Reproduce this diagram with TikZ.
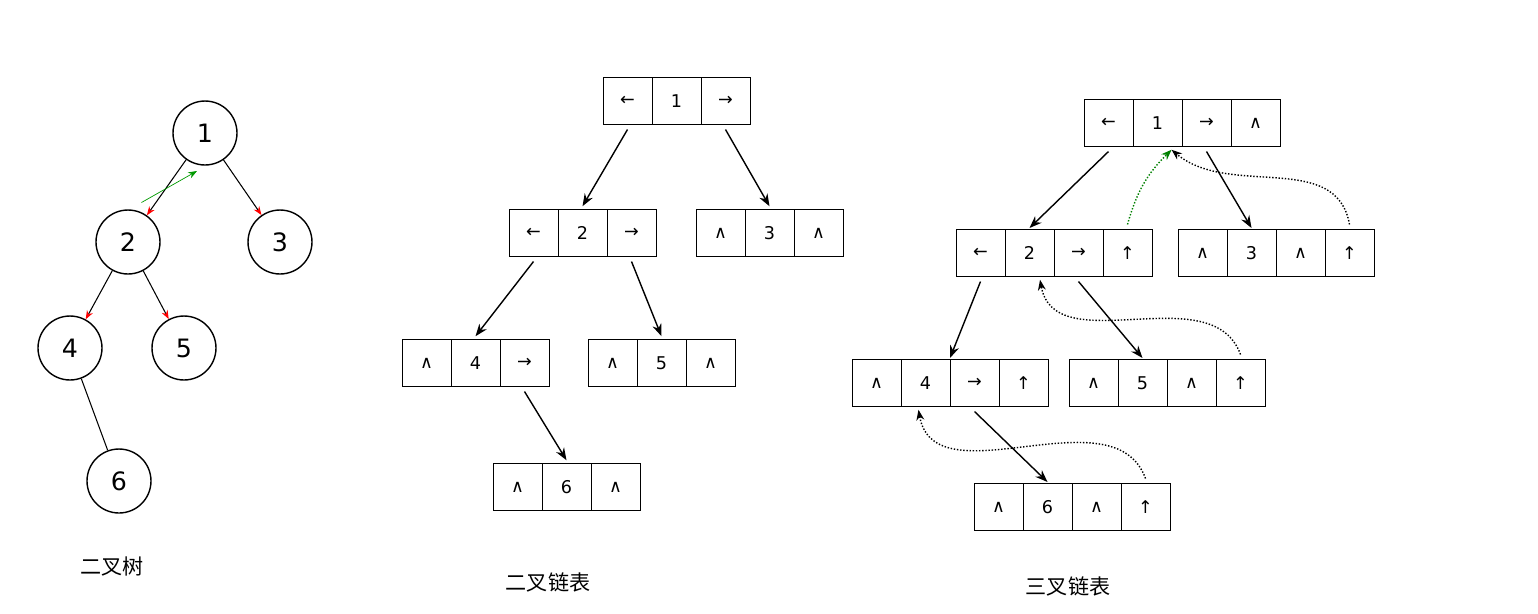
\documentclass[tikz,border=0pt]{standalone}
\usepackage{fontspec}
\setmainfont{DejaVu Sans}
\newfontfamily\cjk{Noto Sans CJK SC}
\usetikzlibrary{positioning,arrows.meta,calc}
\tikzset{
        % tree nodes
        treenode/.style={circle, draw, thick, minimum size=1.28cm, inner sep=0pt, font=\Large},
        % tree edges
        edge/.style={semithick, -{Stealth[red,length=5pt]}},
        % list cells
        cell/.style={rectangle, draw, minimum width=0.98cm, minimum height=0.93cm, inner sep=0pt, outer sep=0pt, font=\normalsize},
        % child pointers
        link/.style={-{Stealth[length=7pt]}, thick},
        % parent pointers
        uplink/.style={-{Stealth[length=6pt]}, thick, densely dotted},
        caption/.style={font=\cjk\large}
}
% one row of cells: name, left edge x, centre y, texts
\newcommand\cellrow[4]{%
  \foreach \t [count=\i] in {#4} {\node[cell] (#1-\i) at ({#2+49*\i-24.5},#3) {\t};}}

\begin{document}
\begin{tikzpicture}[x=0.02cm, y=-0.02cm]
    \useasboundingbox (0,0) rectangle (1538,613);
    % binary tree
    \node[treenode] (t1) at (205,133) {1};
    \node[treenode] (t2) at (128,242) {2};
    \node[treenode] (t3) at (280,242) {3};
    \node[treenode] (t4) at (70,348) {4};
    \node[treenode] (t5) at (184,348) {5};
    \node[treenode] (t6) at (119,481) {6};
    \draw[edge] (t1) -- (t2);
    \draw[edge] (t1) -- (t3);
    \draw[edge] (t2) -- (t4);
    \draw[edge] (t2) -- (t5);
    \draw[semithick] (t4) -- (t6);
    \draw[green!60!black, -{Stealth[length=5pt]}] ($(t2)!0.5!(t1)+(-25,15)$) -- ($(t1)+(-8,38)$);
    \node[caption] (c1) at (112,566) {二叉树};

    % binary linked list
    \cellrow{m1}{603}{101}{←,1,→}
    \cellrow{m2}{509}{233}{←,2,→}
    \cellrow{m3}{696}{233}{∧,3,∧}
    \cellrow{m4}{402}{363}{∧,4,→}
    \cellrow{m5}{588}{363}{∧,5,∧}
    \cellrow{m6}{493}{487}{∧,6,∧}
    \draw[link] ([yshift=-3pt]m1-1.south) -- ([yshift=2pt]m2-2.north);
    \draw[link] ([yshift=-3pt]m1-3.south) -- ([yshift=2pt]m3-2.north);
    \draw[link] ([yshift=-3pt]m2-1.south) -- ([yshift=2pt]m4-2.north);
    \draw[link] ([yshift=-3pt]m2-3.south) -- ([yshift=2pt]m5-2.north);
    \draw[link] ([yshift=-3pt]m4-3.south) -- ([yshift=2pt]m6-2.north);
    \node[caption] (c2) at (548,582) {二叉链表};

    % trident linked list
    \cellrow{r1}{1084}{123}{←,1,→,∧}
    \cellrow{r2}{956}{253}{←,2,→,↑}
    \cellrow{r3}{1178}{253}{∧,3,∧,↑}
    \cellrow{r4}{852}{383}{∧,4,→,↑}
    \cellrow{r5}{1069}{383}{∧,5,∧,↑}
    \cellrow{r6}{974}{507}{∧,6,∧,↑}
    \draw[link] ([yshift=-3pt]r1-1.south) -- ([yshift=1pt]r2-2.north);
    \draw[link] ([yshift=-3pt]r1-3.south) -- ([yshift=1pt]r3-2.north);
    \draw[link] ([yshift=-3pt]r2-1.south) -- ([yshift=1pt]r4-2.north east);
    \draw[link] ([yshift=-3pt]r2-3.south) -- ([yshift=1pt]r5-2.north);
    \draw[link] ([yshift=-3pt]r4-3.south) -- ([yshift=1pt]r6-2.north);
    \draw[uplink, green!50!black] ([yshift=3pt]r2-4.north) to[bend left=15] ([xshift=8pt,yshift=-2pt]r1-2.south);
    \draw[uplink] ([yshift=3pt]r3-4.north) to[out=100,in=-40] ([xshift=8pt,yshift=-2pt]r1-2.south);
    \draw[uplink] ([yshift=3pt]r5-4.north) to[out=110,in=-80] ([xshift=6pt,yshift=-2pt]r2-2.south);
    \draw[uplink] ([yshift=3pt]r6-4.north) to[out=110,in=-80] ([xshift=-4pt,yshift=-2pt]r4-2.south);
    \node[caption] (c3) at (1068,586) {三叉链表};
\end{tikzpicture}
\end{document}
